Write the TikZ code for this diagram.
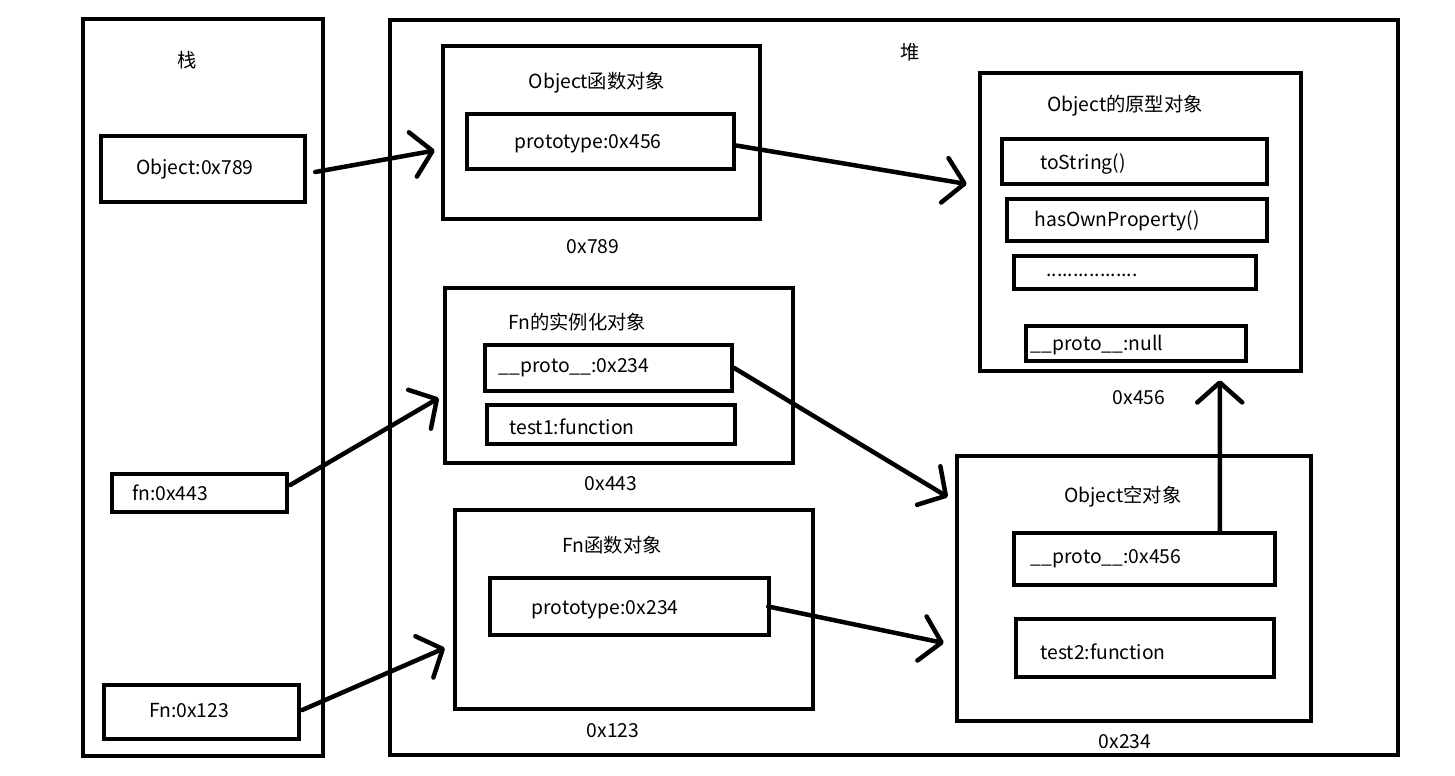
\documentclass[tikz,border=0pt]{standalone}
\usepackage{fontspec}
\setmainfont{Noto Sans CJK SC}
\usetikzlibrary{arrows.meta,calc,positioning}

\begin{document}
\begin{tikzpicture}[
    x=0.02cm, y=-0.02cm,
    font=\fontsize{11}{13}\selectfont,
    area/.style={rectangle, draw, line width=0.09cm, inner sep=0pt},
    field/.style={rectangle, draw, line width=0.09cm, inner sep=0pt},
    tag/.style={inner sep=1pt},
    arrow/.style={-{Straight Barb[length=0.4cm, width=0.9cm, round]}, line width=0.09cm, line cap=round}
]
    \useasboundingbox (0,0) rectangle (1455,775);

    % stack and heap
    \node[area, minimum width=4.8cm, minimum height=14.74cm] (stack) at (203,387.5) {};
    \node[area, minimum width=20.16cm, minimum height=14.7cm] (heap) at (894,387.5) {};
    \node[tag] (stacklbl) at (187,60) {栈};
    \node[tag] (heaplbl) at (910,52) {堆};

    % stack variables
    \node[field, minimum width=4.08cm, minimum height=1.32cm, label={[shift={(-8,0)}]center:Object:0x789}] (objvar) at (203,169) {};
    \node[field, minimum width=3.5cm, minimum height=0.76cm, label={[shift={(-29.5,0)}]center:fn:0x443}] (fnvar) at (199.5,493) {};
    \node[field, minimum width=3.9cm, minimum height=1.08cm, label={[shift={(-12.5,-1)}]center:Fn:0x123}] (Fnvar) at (201.5,712) {};

    % Object function object
    \node[area, minimum width=6.34cm, minimum height=3.46cm] (objfn) at (601.5,132.5) {};
    \node[tag] (objfntitle) at (597,83) {Object函数对象};
    \node[field, minimum width=5.34cm, minimum height=1.1cm, label={[shift={(-12.5,2.5)}]center:prototype:0x456}] (ptype456) at (600.5,141.5) {};
    \node[tag] (addr789) at (593,247) {0x789};

    % Object prototype
    \node[area, minimum width=6.42cm, minimum height=5.96cm] (objproto) at (1140.5,222) {};
    \node[tag] (objprototitle) at (1125,106) {Object的原型对象};
    \node[field, minimum width=5.3cm, minimum height=0.9cm, label={[shift={(-51.5,2.5)}]center:toString()}] (tostr) at (1134.5,161.5) {};
    \node[field, minimum width=5.2cm, minimum height=0.84cm, label={[shift={(-20,1)}]center:hasOwnProperty()}] (hasown) at (1137,220) {};
    \node[field, minimum width=4.84cm, minimum height=0.66cm, label={[shift={(-43,2.5)}]center:.................}] (more) at (1135,272.5) {};
    \node[field, minimum width=4.4cm, minimum height=0.7cm, label={[shift={(-39,1.5)}]center:\_\_proto\_\_:null}] (protonull) at (1136,343.5) {};
    \node[tag] (addr456) at (1139,398) {0x456};

    % Fn instance
    \node[area, minimum width=6.96cm, minimum height=3.5cm] (fninst) at (619,375.5) {};
    \node[tag] (fninsttitle) at (577,322) {Fn的实例化对象};
    \node[field, minimum width=4.94cm, minimum height=0.92cm, label={[shift={(-34.5,0)}]center:\_\_proto\_\_:0x234}] (proto234) at (608.5,368) {};
    \node[field, minimum width=4.96cm, minimum height=0.78cm, label={[shift={(-39,2.5)}]center:test1:function}] (test1) at (611,424.5) {};
    \node[tag] (addr443) at (611,484) {0x443};

    % Fn function object
    \node[area, minimum width=7.16cm, minimum height=3.98cm] (fnfn) at (634,609.5) {};
    \node[tag] (fnfntitle) at (612,545) {Fn函数对象};
    \node[field, minimum width=5.58cm, minimum height=1.14cm, label={[shift={(-24.5,3.5)}]center:prototype:0x234}] (ptype234) at (629.5,606.5) {};
    \node[tag] (addr123) at (613,731) {0x123};

    % empty object
    \node[area, minimum width=7.08cm, minimum height=5.3cm] (emptyobj) at (1134,588.5) {};
    \node[tag] (emptyobjtitle) at (1123,497) {Object空对象};
    \node[field, minimum width=5.22cm, minimum height=1.04cm, label={[shift={(-38.5,0)}]center:\_\_proto\_\_:0x456}] (proto456) at (1144.5,559) {};
    \node[field, minimum width=5.16cm, minimum height=1.16cm, label={[shift={(-42,4)}]center:test2:function}] (test2) at (1145,648) {};
    \node[tag] (addr234) at (1125,742) {0x234};

    % references
    \draw[arrow] ($(objvar.east)+(8,3)$) -- ($(objfn.west)+(-6,18)$);
    \draw[arrow] ($(ptype456.east)+(0,4)$) -- ($(objproto.west)+(-11,-38)$);
    \draw[arrow] ($(fnvar.east)+(1,-8)$) -- ($(fninst.west)+(-4,22.5)$);
    \draw[arrow] ($(Fnvar.east)+(1,-2)$) -- ($(fnfn.west)+(-8,38.5)$);
    \draw[arrow] (proto234.east) -- ($(emptyobj.west)+(-7,-91.5)$);
    \draw[arrow] ($(ptype234.east)+(-3,0)$) -- ($(emptyobj.west)+(-11,54.5)$);
    \draw[arrow] ($(proto456.north west)+(208,0)$) -- ($(objproto.south west)+(242,7)$);
\end{tikzpicture}
\end{document}
